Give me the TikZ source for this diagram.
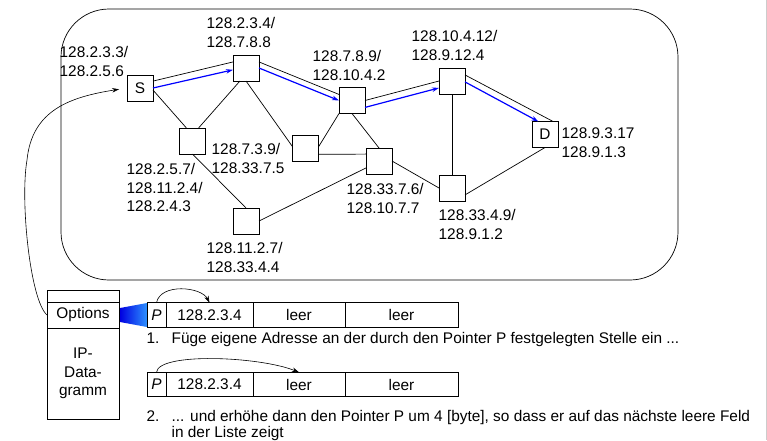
\documentclass[tikz,border=0pt]{standalone}
\usepackage{fontspec}
\setmainfont{Liberation Sans}
\usetikzlibrary{arrows.meta}
\begin{document}
\begin{tikzpicture}[x=1pt, y=-1pt, line width=0.7pt, >={Stealth[length=7pt,width=4.5pt]},
    every node/.style={font=\fontsize{15.4}{18.5}\selectfont},
    router/.style={draw, minimum size=26pt, inner sep=0pt, outer sep=0pt},
    lbl/.style={anchor=north west, align=left, inner sep=0pt},
    cell/.style={draw, minimum height=24.5pt, inner sep=0pt, outer sep=0pt},
    route/.style={->, blue, line width=1.2pt}]
    \useasboundingbox (0,0) rectangle (767,440);
    \draw[gray!40, line width=1pt] (766.3,0) -- (766.3,440);
    % network
    \draw[rounded corners=48pt] (61,9) rectangle (678,280);
    \node[router] (S) at (140,88) {S};
    \node[router] (R1) at (246,68) {};
    \node[router] (R2) at (352,100.5) {};
    \node[router] (R3) at (192.5,141) {};
    \node[router] (R4) at (305.5,148) {};
    \node[router] (R5) at (379,161) {};
    \node[router] (R6) at (246,221) {};
    \node[router] (R7) at (452,81) {};
    \node[router] (R8) at (452,188) {};
    \node[router] (D) at (545,134.5) {D};
    \node[lbl] at (59.3,46.4) {128.2.3.3/\\128.2.5.6};
    \node[lbl] at (206.3,17.4) {128.2.3.4/\\128.7.8.8};
    \node[lbl] at (312.3,50.4) {128.7.8.9/\\128.10.4.2};
    \node[lbl] at (126.3,163.4) {128.2.5.7/\\128.11.2.4/\\128.2.4.3};
    \node[lbl] at (211.3,143.4) {128.7.3.9/\\128.33.7.5};
    \node[lbl] at (346.3,183.4) {128.33.7.6/\\128.10.7.7};
    \node[lbl] at (206.3,242.4) {128.11.2.7/\\128.33.4.4};
    \node[lbl] at (411.3,30.4) {128.10.4.12/\\128.9.12.4};
    \node[lbl] at (561.3,127.4) {128.9.3.17\\128.9.1.3};
    \node[lbl] at (438.3,209.4) {128.33.4.9/\\128.9.1.2};
    % links
    \draw (S.28) -- (R1.155);
    \draw (R1.25) -- (R2.155);
    \draw (R2.east) -- (R7.west);
    \draw (R7.25) -- (D.58);
    \draw (S.-9) -- (R3.115);
    \draw (R1.245) -- (R3.65);
    \draw (R1.south) -- (R4.174);
    \draw (R2.225) -- (R4.5);
    \draw (R4.-26) -- (R5.152);
    \draw (R2.south) -- (R5.north);
    \draw (R3.south) -- (R6.north);
    \draw (R6.east) -- (R5.208);
    \draw (R5.east) -- (R8.west);
    \draw (R7.south) -- (R8.north);
    \draw (R8.-28) -- (D.south);
    % route of the datagram
    \draw[route] (S.east) -- (R1.188);
    \draw[route] (R1.east) -- (R2.west);
    \draw[route] (R2.-28) -- (R7.208);
    \draw[route] (R7.-4) -- (D.117);
    % datagram
    \node[draw, minimum width=72pt, minimum height=12pt, outer sep=0pt] (hdr) at (83,296) {};
    \node[draw, minimum width=72pt, minimum height=26pt, inner sep=0pt, outer sep=0pt] (opt) at (83,315) {Options};
    \node[draw, minimum width=72pt, minimum height=91pt, align=center, inner sep=0pt, outer sep=0pt] (dgram) at (83,373.5) {IP-\\Data-\\gramm};
    \draw[->, line width=0.6pt, shorten >=8pt] (opt.west) .. controls (30,300) and (20,200) .. (27,160)
        .. controls (32,110) and (70,97) .. (S.west);
    \shade[left color={rgb,255:red,0;green,0;blue,225}, right color={rgb,255:red,45;green,145;blue,255}]
        (120,308) -- (147,303) -- (147,327) -- (120,322) -- cycle;
    % option list, before and after
    \node[cell, minimum width=19pt] (p1) at (156.5,315) {\textit{P}};
    \node[cell, minimum width=87pt] (a1) at (209.5,315) {128.2.3.4};
    \node[cell, minimum width=92pt] (b1) at (299,315) {leer};
    \node[cell, minimum width=113pt] (c1) at (401.5,315) {leer};
    \node[cell, minimum width=19pt] (p2) at (156.5,384.5) {\textit{P}};
    \node[cell, minimum width=87pt] (a2) at (209.5,384.5) {128.2.3.4};
    \node[cell, minimum width=92pt] (b2) at (299,384.5) {leer};
    \node[cell, minimum width=113pt] (c2) at (401.5,384.5) {leer};
    \draw[->, line width=0.6pt] (p1.north) .. controls +(4,-20) and +(-8,-16) .. (a1.north);
    \draw[->, line width=0.6pt] (p2.north) .. controls +(2,-20) and +(-40,-16) .. (b2.north);
    \node[lbl] at (146.3,332.4) {1.};
    \node[lbl] at (171.3,332.4) {Füge eigene Adresse an der durch den Pointer P festgelegten Stelle ein ...};
    \node[lbl] at (146.3,410.4) {2.};
    \node[lbl] at (171.3,410.4) {... und erhöhe dann den Pointer P um 4 [byte], so dass er auf das nächste leere Feld\\[-3pt]in der Liste zeigt};
\end{tikzpicture}
\end{document}
